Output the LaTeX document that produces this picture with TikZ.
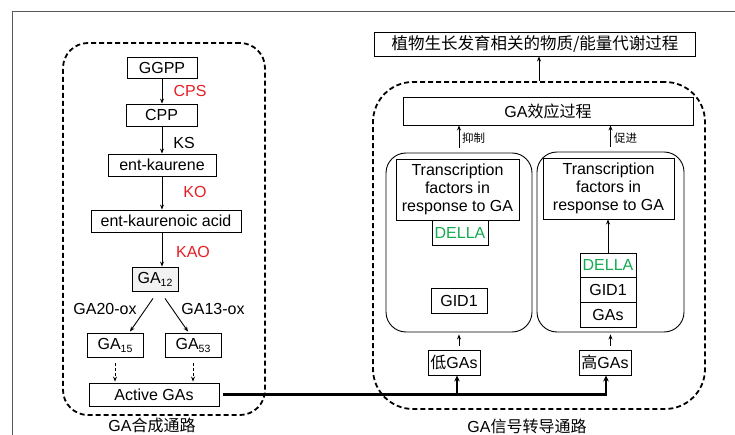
\documentclass[tikz,border=0pt]{standalone}
\usepackage{fontspec}
\setmainfont{Liberation Sans}
\newfontfamily\cjk{Noto Sans CJK SC}
\usetikzlibrary{arrows.meta,calc}
\definecolor{myred}{RGB}{228,30,36}
\definecolor{mygreen}{RGB}{20,170,80}
\newcommand{\subs}[1]{\raisebox{-3pt}{\fontsize{10.5}{10.5}\selectfont #1}}
\tikzset{
  bx/.style={draw, line width=0.9pt, inner sep=0pt, align=center},
  dbox/.style={draw, line width=1.8pt, dash pattern=on 5pt off 3pt, inner sep=0pt},
  rbox/.style={draw, line width=0.9pt, inner sep=0pt, rounded corners=20pt},
  arr/.style={line width=0.9pt, -{Stealth[length=5pt,width=4pt]}},
  darr/.style={line width=0.9pt, dash pattern=on 3pt off 2pt, -{Stealth[length=5pt,width=4pt]}},
  tarr/.style={line width=2.4pt, -{Stealth[length=6pt,width=5.5pt]}},
  lbl/.style={inner sep=0pt},
  sm/.style={font=\cjk\fontsize{11.5}{13}\selectfont, inner sep=0pt}
}
\begin{document}
\begin{tikzpicture}[x=1pt,y=-1pt, every node/.style={font=\fontsize{16}{18}\selectfont}]
\useasboundingbox (0,0) rectangle (735,435);
% outer thin frame
\draw[black!65, line width=0.8pt] (12,435) -- (12,11) -- (735,11);

% ---------- left: synthesis ----------
\node[dbox, rounded corners=25pt, minimum width=202pt, minimum height=372pt] (lbox) at (164,229) {};
\node[lbl] (lcap) at (152,425) {GA{\cjk 合成通路}};

\node[bx, minimum width=70pt, minimum height=21pt] (ggpp) at (162,67.5) {GGPP};
\node[bx, minimum width=71pt, minimum height=22pt] (cpp) at (161.5,115) {CPP};
\node[bx, minimum width=108pt, minimum height=22pt] (entk) at (162,165) {ent-kaurene};
\node[bx, minimum width=150pt, minimum height=22pt] (enta) at (166,221) {ent-kaurenoic acid};
\node[bx, minimum width=46pt, minimum height=24pt, fill=black!5] (ga12) at (155,279) {GA\subs{12}};
\node[bx, minimum width=56pt, minimum height=24pt] (ga15) at (115,345) {GA\subs{15}};
\node[bx, minimum width=56pt, minimum height=24pt] (ga53) at (193,345) {GA\subs{53}};
\node[bx, minimum width=130pt, minimum height=23pt] (active) at (154,394.5) {Active GAs};

\draw[arr] (ggpp.south) -- (ggpp.south |- cpp.north);
\draw[arr] (cpp.south -| ggpp) -- (entk.north);
\draw[arr] (entk.south) -- (entk.south |- enta.north);
\draw[arr] (enta.south -| ggpp) -- (ga12.north -| ggpp);

\node[lbl, text=myred] (cps) at (190,91) {CPS};
\node[lbl] (ks) at (184,143) {KS};
\node[lbl, text=myred] (ko) at (195,192) {KO};
\node[lbl, text=myred] (kao) at (193,252) {KAO};
\node[lbl] (g20) at (105,309) {GA20-ox};
\node[lbl] (g13) at (213,309) {GA13-ox};

\draw[arr] ([shift={(-2,7)}]ga12.south) -- ([shift={(15,-1)}]ga15.north);
\draw[arr] ([shift={(10,7)}]ga12.south) -- ([shift={(-5,-1)}]ga53.north);
\draw[darr] ([yshift=-6pt]ga15.south) -- ([yshift=1pt]ga15.south |- active.north);
\draw[darr] ([yshift=-6pt]ga53.south) -- ([yshift=1pt]ga53.south |- active.north);

% ---------- top box ----------
\node[bx, minimum width=321pt, minimum height=24pt, font=\cjk\fontsize{16.5}{18}\selectfont] (top) at (535,44) {植物生长发育相关的物质/能量代谢过程};

% ---------- right: signalling ----------
\node[dbox, rounded corners=40pt, minimum width=332pt, minimum height=327pt] (rbig) at (539,245.5) {};
\node[lbl] (rcap) at (527,426) {GA{\cjk 信号转导通路}};
\draw[arr] (rbig.north) -- (rbig.north |- top.south);

\node[bx, minimum width=290pt, minimum height=28pt] (eff) at (548,111) {GA{\cjk 效应过程}};

\node[rbox, minimum width=146pt, minimum height=179pt] (lin) at (459,242.5) {};
\node[rbox, minimum width=147pt, minimum height=180pt] (rin) at (610.5,242) {};

\draw[arr] ([yshift=5pt]lin.north) -- (lin.north |- eff.south);
\draw[arr] ([yshift=5pt]rin.north) -- (rin.north |- eff.south);
\node[sm, anchor=west] (yz) at (462,138) {抑制};
\node[sm, anchor=west] (cj) at (614,138) {促进};

\node[bx, minimum width=123pt, minimum height=61pt, font=\fontsize{16}{18}\selectfont] (ltf) at (457.5,189.5) {Transcription\\factors in\\response to GA};
\node[bx, minimum width=131pt, minimum height=61pt, font=\fontsize{16}{18}\selectfont] (rtf) at (608.5,188.5) {Transcription\\factors in\\response to GA};

\node[bx, minimum width=56pt, minimum height=25pt, text=mygreen] (ldella) at (460,232.5) {DELLA};
\node[bx, minimum width=56pt, minimum height=25pt] (lgid) at (459,300.5) {GID1};

\node[bx, minimum width=56pt, minimum height=24pt, text=mygreen] (rdella) at (608,265) {DELLA};
\node[bx, minimum width=56pt, minimum height=25pt] (rgid) at (608,289.5) {GID1};
\node[bx, minimum width=56pt, minimum height=25pt] (rgas) at (608,314.5) {GAs};
\draw[arr] ([yshift=-1pt]rdella.north) -- (rdella.north |- rtf.south);

\node[bx, minimum width=52pt, minimum height=25pt] (di) at (454,362.5) {{\cjk 低}GAs};
\node[bx, minimum width=52pt, minimum height=25pt] (gao) at (605,362.5) {{\cjk 高}GAs};

\draw[arr, shorten <=4pt, shorten >=2pt] (di.north -| lin.south) -- (lin.south);
\draw[arr, shorten <=4pt, shorten >=2pt] (gao.north -| rin.south) -- (rin.south);

% ---------- thick connector ----------
\draw[tarr] ([xshift=4pt]active.east) -| ([xshift=1pt]gao.south);
\draw[tarr] ($(di.south |- active.east)+(3,0)$) -- ([xshift=3pt]di.south);
\end{tikzpicture}
\end{document}
